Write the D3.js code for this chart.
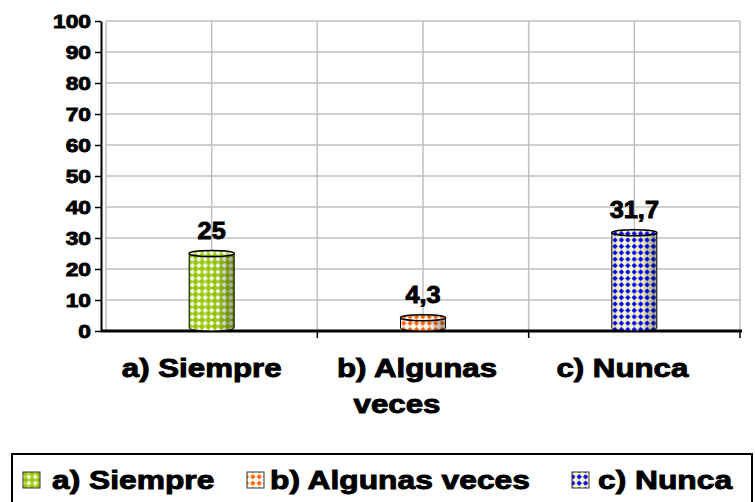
<!DOCTYPE html>
<html>
<head>
<meta charset="utf-8">
<script src="https://cdn.jsdelivr.net/npm/d3@7"></script>
<style>
  body { margin: 0; background: #fff; }
  text { font-family: "Liberation Sans", Arial, sans-serif; font-weight: bold; fill: #000; stroke: #000; stroke-width: 0.9px; }
</style>
</head>
<body>
<svg id="chart" width="755" height="502"></svg>
<script>
const categories = ["a) Siempre", "b) Algunas veces", "c) Nunca"];
const axisLabels = [["a) Siempre"], ["b) Algunas", "veces"], ["c) Nunca"]];
const values = [25, 4.3, 31.7];
const valueLabels = ["25", "4,3", "31,7"];
const yTicks = [0, 10, 20, 30, 40, 50, 60, 70, 80, 90, 100];

// fill pattern per series: dot colour on background colour
const patternBg = ["#99cc00", "#ffffff", "#ffffcc"];
const patternDot = ["#ffffff", "#ff6600", "#0000ff"];

const svg = d3.select("#chart");
const defs = svg.append("defs");

const x = d3.scaleBand().domain(categories).range([106, 740]);
const y = d3.scaleLinear().domain([0, 100]).range([331, 21]);

categories.forEach((c, i) => {
    const p = defs.append("pattern")
        .attr("id", `pat-${i}`)
        .attr("patternUnits", "userSpaceOnUse")
        .attr("width", 6.4).attr("height", 6.4);
    p.append("rect").attr("width", 6.4).attr("height", 6.4).attr("fill", patternBg[i]);
    p.append("path")
        .attr("d", "M3.2,0.5 L5.9,3.2 L3.2,5.9 L0.5,3.2 Z")
        .attr("fill", patternDot[i]);
});

// cylinder shading, darker towards the right side
const shade = defs.append("linearGradient").attr("id", "shade");
shade.append("stop").attr("offset", "0%").attr("stop-color", "#000").attr("stop-opacity", 0.05);
shade.append("stop").attr("offset", "30%").attr("stop-color", "#000").attr("stop-opacity", 0.0);
shade.append("stop").attr("offset", "65%").attr("stop-color", "#000").attr("stop-opacity", 0.05);
shade.append("stop").attr("offset", "85%").attr("stop-color", "#000").attr("stop-opacity", 0.25);
shade.append("stop").attr("offset", "100%").attr("stop-color", "#000").attr("stop-opacity", 0.35);

// gridlines
svg.append("g")
    .selectAll("line")
    .data(yTicks.slice(1))
    .join("line")
    .attr("x1", 106).attr("x2", 740)
    .attr("y1", d => y(d)).attr("y2", d => y(d))
    .attr("stroke", "#c0c0c0").attr("stroke-width", 1.5);

const vlines = [106];
categories.forEach(c => {
    vlines.push(x(c) + x.bandwidth() / 2, x(c) + x.bandwidth());
});
svg.append("g")
    .selectAll("line")
    .data(vlines)
    .join("line")
    .attr("x1", d => d).attr("x2", d => d)
    .attr("y1", y(100)).attr("y2", y(0))
    .attr("stroke", "#c0c0c0").attr("stroke-width", 1.5);

// y axis
const yAxis = svg.append("g")
    .attr("transform", "translate(101,0)")
    .call(d3.axisLeft(y).tickValues(yTicks).tickSize(6).tickSizeOuter(0));
yAxis.select(".domain").attr("stroke", "#000").attr("stroke-width", 2);
yAxis.selectAll(".tick line").attr("stroke", "#000").attr("stroke-width", 1.5);
yAxis.selectAll(".tick text")
    .attr("x", 0).attr("dy", null).attr("dominant-baseline", "central")
    .attr("fill", "#000")
    .style("font-size", "19px")
    .attr("text-anchor", "end")
    .attr("transform", "translate(-10,0) scale(1.2,1)");

// x axis line + ticks at band edges
svg.append("line")
    .attr("x1", 101).attr("x2", 742)
    .attr("y1", y(0)).attr("y2", y(0))
    .attr("stroke", "#000").attr("stroke-width", 3);
svg.append("g")
    .selectAll("line")
    .data(categories)
    .join("line")
    .attr("x1", d => x(d) + x.bandwidth()).attr("x2", d => x(d) + x.bandwidth())
    .attr("y1", y(0)).attr("y2", y(0) + 7)
    .attr("stroke", "#000").attr("stroke-width", 1.5);

// bars drawn as cylinders
const bw = 45, ry = 3;
const bars = svg.append("g")
    .selectAll("g")
    .data(values)
    .join("g")
    .attr("transform", (d, i) => `translate(${x(categories[i]) + x.bandwidth() / 2 - bw / 2},0)`);

const bodyPath = d => {
    const top = y(d), bot = y(0);
    return `M0,${top} L0,${bot - ry} A${bw / 2},${ry} 0 0 0 ${bw},${bot - ry} L${bw},${top} Z`;
};
bars.append("path")
    .attr("d", bodyPath)
    .attr("fill", (d, i) => `url(#pat-${i})`);
bars.append("path")
    .attr("d", bodyPath)
    .attr("fill", "url(#shade)")
    .attr("stroke", "#000").attr("stroke-width", 1);
bars.append("ellipse")
    .attr("cx", bw / 2).attr("cy", d => y(d))
    .attr("rx", bw / 2).attr("ry", ry)
    .attr("fill", (d, i) => `url(#pat-${i})`)
    .attr("stroke", "#000").attr("stroke-width", 1.5);

// value labels
svg.append("g")
    .selectAll("text")
    .data(values)
    .join("text")
    .attr("transform", (d, i) => `translate(${x(categories[i]) + x.bandwidth() / 2},${y(d) - 15}) scale(1.1,1)`)
    .attr("text-anchor", "middle")
    .style("font-size", "23px")
    .text((d, i) => valueLabels[i]);

// category labels (wrapped, sitting a little left of the band centre)
const lineShift = [[-10], [-6, -26], [-12]];
const catG = svg.append("g")
    .selectAll("g")
    .data(axisLabels)
    .join("g")
    .attr("transform", (d, i) => `translate(${x(categories[i]) + x.bandwidth() / 2},0)`);
catG.selectAll("text")
    .data((d, i) => d.map((t, j) => ({ t, dx: lineShift[i][j] })))
    .join("text")
    .attr("transform", (d, j) => `translate(${d.dx},${377 + j * 36}) scale(1.25,1)`)
    .attr("text-anchor", "middle")
    .style("font-size", "25px")
    .text(d => d.t);

// legend
svg.append("rect")
    .attr("x", 12).attr("y", 454).attr("width", 740).attr("height", 60)
    .attr("fill", "none").attr("stroke", "#000").attr("stroke-width", 2);

const legendX = [23, 247, 572];
const legendTextX = [52, 270, 598];
const leg = svg.append("g")
    .selectAll("g")
    .data(categories)
    .join("g");
leg.append("rect")
    .attr("x", (d, i) => legendX[i]).attr("y", 472)
    .attr("width", 17).attr("height", 16)
    .attr("fill", (d, i) => `url(#pat-${i})`)
    .attr("stroke", "#333").attr("stroke-width", 1);
leg.append("text")
    .attr("transform", (d, i) => `translate(${legendTextX[i]},489) scale(1.27,1)`)
    .style("font-size", "25px")
    .text(d => d);
</script>
</body>
</html>
